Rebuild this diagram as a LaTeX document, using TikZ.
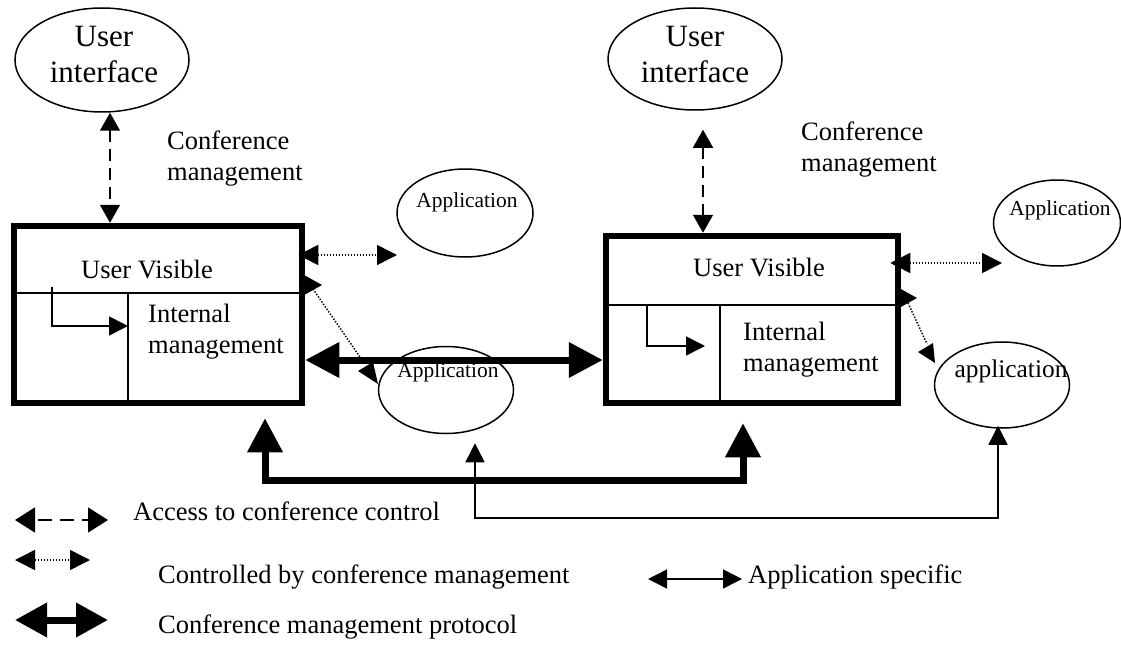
\documentclass[tikz,border=0pt]{standalone}
\usepackage{fontspec}
\setmainfont{Liberation Serif}
\usetikzlibrary{arrows.meta,shapes.geometric,calc}
\begin{document}
\begin{tikzpicture}[x=1pt,y=-1pt,
  box/.style={draw,line width=6.5pt,inner sep=0},
  ell/.style={draw,ellipse,line width=1.5pt,inner sep=0},
  ui/.style={font=\fontsize{31}{36}\selectfont,align=center,inner sep=0},
  lbl/.style={font=\fontsize{26.5}{31}\selectfont,align=left,inner sep=0},
  apptxt/.style={font=\fontsize{21.4}{25}\selectfont,inner sep=0},
  thinline/.style={line width=1.6pt},
  dasharr/.style={line width=1.5pt,dash pattern=on 12pt off 7pt,
    {Triangle[length=18pt,width=20pt]}-{Triangle[length=18pt,width=20pt]}},
  dotline/.style={line width=1.5pt,dash pattern=on 1.4pt off 1.6pt},
  dotarr/.style={dotline,{Triangle[length=20pt,width=20pt]}-{Triangle[length=20pt,width=20pt]}},
  thickarr/.style={line width=7pt,{Triangle[length=34pt,width=34pt]}-{Triangle[length=34pt,width=34pt]}},
  thinarr/.style={line width=1.5pt,{Triangle[length=19pt,width=19pt]}-{Triangle[length=19pt,width=19pt]}},
  inarr/.style={thinline,-{Triangle[length=19pt,width=19pt]}},
  head/.style={fill=black}
]
\useasboundingbox (0,0) rectangle (1121,650);

% ellipses
\node[ell,minimum width=174pt,minimum height=104pt] (uiL) at (102,60) {};
\node[ell,minimum width=174pt,minimum height=102pt] (uiR) at (695,59) {};
\node[ell,minimum width=136pt,minimum height=88pt] (appT) at (465,213) {};
\node[ell,minimum width=127pt,minimum height=86pt] (appTR) at (1057,223) {};
\node[ell,minimum width=135pt,minimum height=87pt] (appM) at (446,390) {};
\node[ell,minimum width=135pt,minimum height=86pt] (appR) at (1002,385) {};

% ellipse texts
\node[ui] (uiLt) at (104,54.75) {User\\interface};
\node[ui] (uiRt) at (695,54.75) {User\\interface};
\node[apptxt,anchor=base] (appTt) at (467,207) {Application};
\node[apptxt,anchor=base] (appTRt) at (1060,215) {Application};
\node[apptxt,anchor=base] (appMt) at (448,377) {Application};
\node[font=\fontsize{25.4}{30}\selectfont,inner sep=0,anchor=base] (appRt) at (1011,377) {application};

% labels
\node[lbl,anchor=west] (cmL) at (167,158.3) {Conference\\management};
\node[lbl,anchor=west] (cmR) at (801,149.8) {Conference\\management};

% boxes
\node[box,minimum width=288pt,minimum height=177pt] (boxL) at (158,314.5) {};
\node[box,minimum width=292pt,minimum height=167pt] (boxR) at (752,319.5) {};

\draw[thinline] (14,293) -- (302,293);
\draw[thinline] (128,293) -- (128,403);
\draw[inarr] (52,287) |- (128,326);
\draw[thinline] (606,305) -- (898,305);
\draw[thinline] (720,305) -- (720,403);
\draw[inarr] (647,305) |- (705,346);

\node[lbl,anchor=base] (uvL) at (147,278) {User Visible};
\node[lbl,anchor=base] (uvR) at (759,276) {User Visible};
\node[lbl,anchor=west] (imL) at (148,331.4) {Internal\\management};
\node[lbl,anchor=west] (imR) at (743,349.4) {Internal\\management};

% dashed access arrows
\draw[dasharr] (uiL.south) ++(8,0) coordinate (dA) -- (dA |- boxL.north);
\draw[dasharr] (uiR.south) ++(8,19) coordinate (dB) -- (dB |- boxR.north);

% dotted arrows
\coordinate (dLend) at (397,255);
\draw[dotarr] ($(dLend -| boxL.east)+(-7,0)$) -- (dLend);
\coordinate (dRend) at (1002,263);
\draw[dotarr] ($(dRend -| boxR.east)+(-11,0)$) -- (dRend);

\coordinate (gL1) at (313,289);
\coordinate (gL2) at (360,357);
\draw[dotline] (gL1) -- (gL2);
\fill[head] (304,275) -- (304,295) -- (322,285) -- cycle;
\fill[head] (358,371) -- (373,362) -- (378,384) -- cycle;

\coordinate (gR1) at (908,303);
\coordinate (gR2) at (927,344);
\draw[dotline] (gR1) -- (gR2);
\fill[head] (899,288) -- (899,308) -- (917,298) -- cycle;
\fill[head] (918,352) -- (933,343) -- (935,363) -- cycle;

% conference management protocol
\coordinate (tm) at (450,360);
\draw[thickarr] (boxL.east |- tm) -- (boxR.west |- tm);
\coordinate (bt) at (500,480);
\draw[thickarr] ($(boxL.south)+(107,12)$) |- (bt) -| ($(boxR.south)+(-9,17)$);

% application specific
\coordinate (bn) at (700,518);
\draw[thinarr] ($(appM.south)+(29,9)$) |- (bn) -| ($(appR.south)+(-4,-3)$);

% legend
\coordinate (l1a) at (15,520); \coordinate (l1b) at (108,520);
\draw[line width=1.5pt,dash pattern=on 14pt off 8pt,dash phase=-3pt,
  {Triangle[length=20pt,width=25pt]}-{Triangle[length=20pt,width=25pt]}] (l1a) -- (l1b);
\node[lbl,anchor=base west] (lg1) at (133,520) {Access to conference control};

\coordinate (l2a) at (15,560); \coordinate (l2b) at (90,560);
\draw[dotarr] (l2a) -- (l2b);
\node[lbl,anchor=base west] (lg2) at (158,583) {Controlled by conference management};

\coordinate (l3a) at (15,620); \coordinate (l3b) at (108,620);
\draw[line width=7pt,{Triangle[length=32pt,width=33pt]}-{Triangle[length=32pt,width=33pt]}] (l3a) -- (l3b);
\node[lbl,anchor=base west] (lg3) at (158,633) {Conference management protocol};

\coordinate (l4a) at (648,579); \coordinate (l4b) at (742,579);
\draw[thinarr] (l4a) -- (l4b);
\node[lbl,anchor=base west] (lg4) at (748,583) {Application specific};
\end{tikzpicture}
\end{document}
